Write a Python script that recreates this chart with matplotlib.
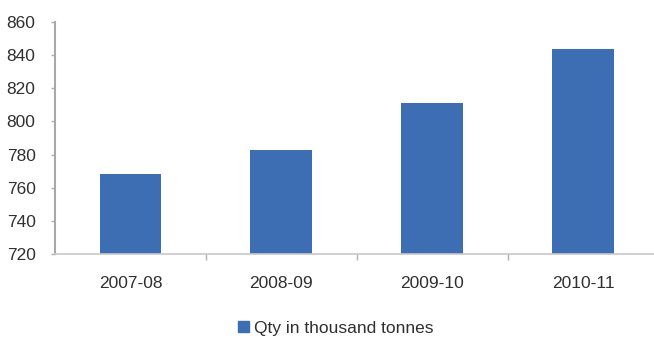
import matplotlib
matplotlib.use("Agg")
import matplotlib.pyplot as plt
from matplotlib.patches import Patch

years = ["2007-08", "2008-09", "2009-10", "2010-11"]
qty = [768, 783, 811, 844]
series_name = "Qty in thousand tonnes"
yticks = [720, 740, 760, 780, 800, 820, 840, 860]

plt.rcParams["font.family"] = ["Liberation Sans", "DejaVu Sans"]

W, H = 654, 338
fig = plt.figure(figsize=(W / 100, H / 100), dpi=100)
ax = fig.add_axes([55 / W, 1 - 254 / H, 1 - 55 / W, (254 - 22) / H])

color = "#3d6db3"
text_color = "#303030"
fs = 12.5
x = list(range(len(years)))
ax.bar(x, [v - 720 for v in qty], bottom=720, width=0.41, color=color, zorder=2)

ax.set_ylim(720, 860)
ax.set_xlim(-0.5, 3.47)
ax.set_yticks(yticks)
ax.set_yticklabels([str(t) for t in yticks], fontsize=fs, color=text_color)
ax.set_xticks(x)
ax.set_xticklabels(years, fontsize=fs, color=text_color)
ax.tick_params(axis="x", length=0, pad=16)
ax.set_xticks([0.5, 1.5, 2.5], minor=True)
ax.tick_params(axis="x", which="minor", length=4, color="#b0b0b0", width=1)
ax.tick_params(axis="y", length=3, color="#b0b0b0", width=1, pad=11)

for s in ["top", "right"]:
    ax.spines[s].set_visible(False)
ax.spines["left"].set_color("#a8a8a8")
ax.spines["left"].set_linewidth(1.5)
ax.spines["bottom"].set_color("#c8c8c8")
ax.spines["bottom"].set_linewidth(1.2)

handle = Patch(facecolor=color, edgecolor=color)
fig.legend([handle], [series_name], loc="center", bbox_to_anchor=(336 / W, 1 - 328 / H),
           frameon=False, fontsize=fs, handlelength=0.6, handleheight=0.6,
           handletextpad=0.3, labelcolor=text_color)

fig.savefig("out.png", dpi=100)
